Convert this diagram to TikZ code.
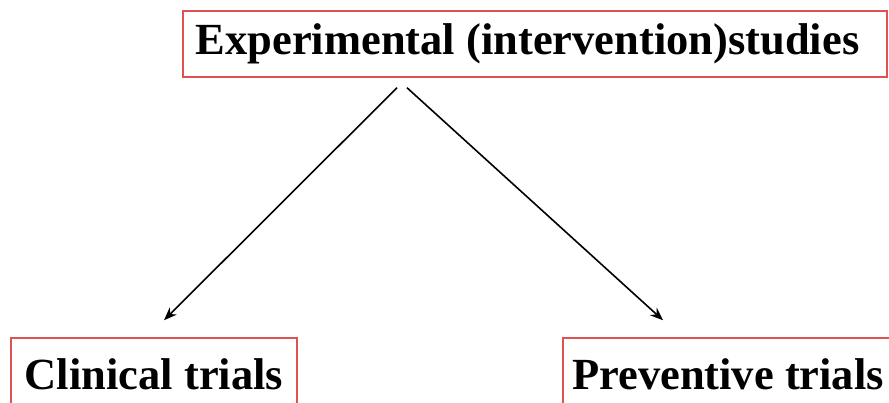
\documentclass[tikz,border=0pt]{standalone}
\usepackage{fontspec}
\setmainfont{Liberation Serif}
\usetikzlibrary{shapes,arrows,arrows.meta,positioning,calc}
\definecolor{boxred}{RGB}{222, 82, 82}

\begin{document}
\begin{tikzpicture}[
    x=1pt, y=1pt,
    block/.style={rectangle, draw=boxred, line width=1.5pt, inner sep=0pt,
                  align=center, font=\bfseries\fontsize{44.5}{50}\selectfont},
    arr/.style={-{Stealth[length=13pt, width=10pt]}, line width=1.6pt},
  ]
    \useasboundingbox (0,0) rectangle (889,403);

    % Top level
    \node[block, minimum width=704pt, minimum height=66pt] (exp) at (535,359)
        {Experimental (intervention)studies\hspace*{15pt}};

    % Two kinds
    \node[block, minimum width=286pt, minimum height=72pt] (clin) at (154,29)
        {Clinical trials};
    \node[block, minimum width=330pt, minimum height=72pt] (prev) at (728,29)
        {Preventive trials};

    % Arrows
    \draw[arr] ([xshift=-138pt, yshift=-10pt]exp.south) -- ([xshift=10pt, yshift=17pt]clin.north);
    \draw[arr] ([xshift=-128pt, yshift=-10pt]exp.south) -- ([xshift=-65pt, yshift=17pt]prev.north);
  \end{tikzpicture}
\end{document}
